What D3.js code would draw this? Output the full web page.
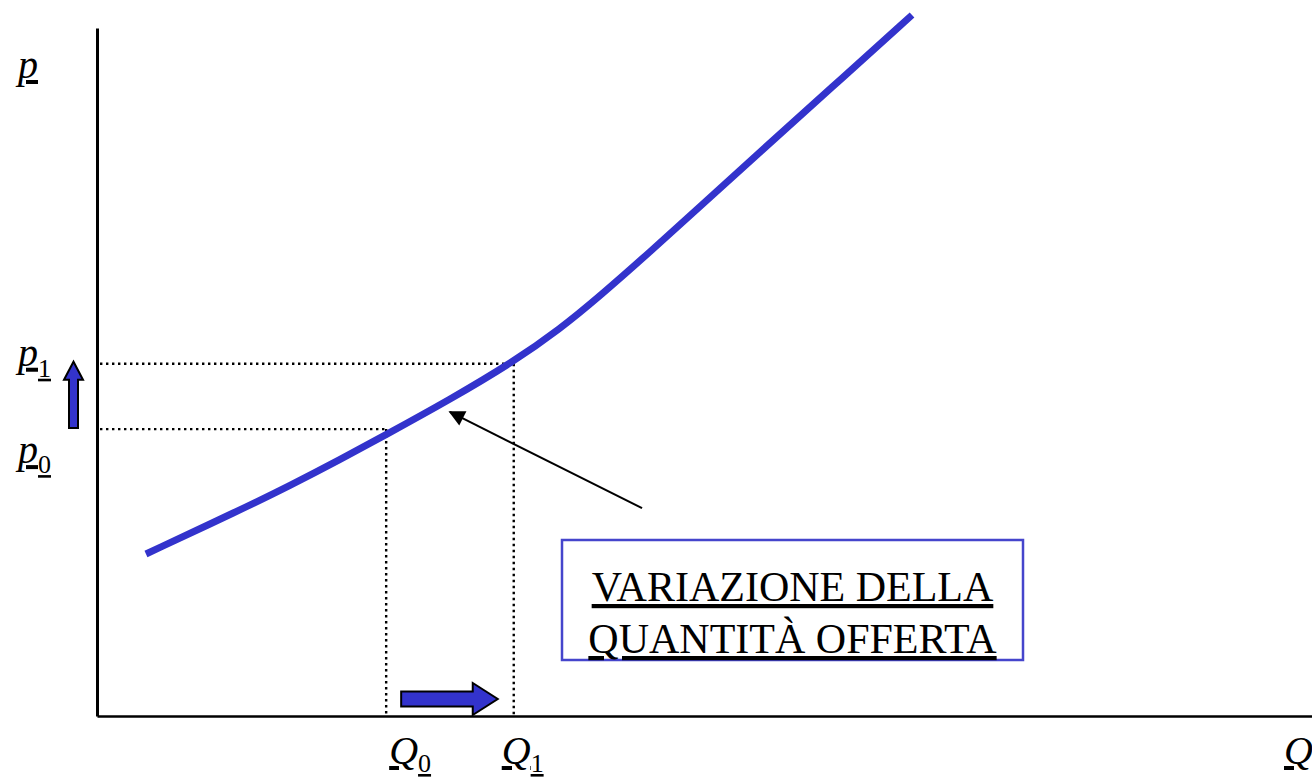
<!DOCTYPE html>
<html>
<head>
<meta charset="utf-8">
<script src="https://cdn.jsdelivr.net/npm/d3@7"></script>
<style>
  html, body { margin: 0; padding: 0; background: #fff; }
  svg { display: block; }
</style>
</head>
<body>
<svg id="chart" width="1312" height="782"></svg>
<script>
// ---- data (arbitrary units: Q 0..100, p 0..100) ----
const supplyQ = [4.03, 11.77, 15.88, 20.0, 23.70, 29.05, 34.24, 38.11, 41.40, 45.51, 49.63, 54.57, 60.33, 67.08];
const supplyP = [23.55, 29.94, 33.50, 37.28, 40.81, 46.00, 51.45, 56.25, 61.05, 67.44, 74.06, 81.98, 91.13, 101.89];
const qLevels = [23.8, 34.3];          // Q0, Q1
const pLevels = [41.7, 51.2];          // p0, p1
const qLabels = ["Q", "Q"];
const qSubs = ["0", "1"];
const pLabels = ["p", "p"];
const pSubs = ["0", "1"];
const axisLabelY = "p";
const axisLabelX = "Q";
const boxLines = ["VARIAZIONE DELLA", "QUANTITÀ OFFERTA"];
const pointerFrom = [44.86, 30.2];     // [Q, p]
const pointerTo = [29.05, 44.2];

const FONT = "'Liberation Serif', 'Times New Roman', Times, serif";
const svg = d3.select("#chart");
const x = d3.scaleLinear().domain([0, 100]).range([97, 1312]);
const y = d3.scaleLinear().domain([0, 100]).range([716, 28]);
const blue = "#3333cc";

// axes
svg.append("g").attr("transform", `translate(${x(0)},0)`)
  .call(d3.axisLeft(y).tickValues([]).tickSizeOuter(0))
  .select(".domain").attr("stroke", "#000").attr("stroke-width", 3);
svg.append("g").attr("transform", `translate(0,${y(0)})`)
  .call(d3.axisBottom(x).tickValues([]).tickSizeOuter(0))
  .select(".domain").attr("stroke", "#000").attr("stroke-width", 2.5);

// dotted guides
const guides = svg.append("g").attr("stroke", "#000").attr("stroke-width", 2.4)
  .attr("stroke-dasharray", "2.4,3.6").attr("fill", "none");
qLevels.forEach((q, i) => {
  const p = pLevels[i];
  guides.append("line").attr("x1", x(0) + 3).attr("x2", x(q)).attr("y1", y(p)).attr("y2", y(p));
  guides.append("line").attr("x1", x(q)).attr("x2", x(q)).attr("y1", y(p)).attr("y2", y(0));
});

// supply curve
const pts = supplyQ.map((q, i) => [q, supplyP[i]]);
svg.append("path").datum(pts)
  .attr("fill", "none").attr("stroke", blue).attr("stroke-width", 7)
  .attr("d", d3.line().x(d => x(d[0])).y(d => y(d[1])).curve(d3.curveBasis));

// labels helper
function label(xp, yp, main, sub, size, subSize, dy) {
  const t = svg.append("text").attr("x", xp).attr("y", yp)
    .attr("font-family", FONT).style("font-family", FONT)
    .attr("font-size", size).attr("fill", "#000");
  t.append("tspan").text(main).attr("font-style", "italic")
    .attr("text-decoration", "underline").style("text-decoration", "underline");
  if (sub) {
    t.append("tspan").text(sub).attr("dy", dy).attr("font-size", subSize)
      .attr("text-decoration", "underline").style("text-decoration", "underline");
  }
  return t;
}
label(18, 78, axisLabelY, null, 40);
label(18, y(pLevels[1]) + 2, pLabels[1], pSubs[1], 40, 26, 11);
label(18, y(pLevels[0]) + 34, pLabels[0], pSubs[0], 40, 26, 10);
label(x(qLevels[0]) + 3, 764, qLabels[0], qSubs[0], 40, 26, 8);
label(x(qLevels[1]) - 12, 764, qLabels[1], qSubs[1], 40, 26, 8);
label(1284, 764, axisLabelX, null, 40);

// block arrows
function blockArrowUp(cx, yBottom, yTip) {
  const sw = 4.5, hw = 9.5, hl = 18;
  const d = `M${cx - sw},${yBottom} L${cx - sw},${yTip + hl} L${cx - hw},${yTip + hl} L${cx},${yTip} L${cx + hw},${yTip + hl} L${cx + sw},${yTip + hl} L${cx + sw},${yBottom} Z`;
  svg.append("path").attr("d", d).attr("fill", blue).attr("stroke", "#000").attr("stroke-width", 2);
}
function blockArrowRight(cy, xStart, xTip) {
  const sw = 7.5, hw = 16, hl = 25;
  const d = `M${xStart},${cy - sw} L${xTip - hl},${cy - sw} L${xTip - hl},${cy - hw} L${xTip},${cy} L${xTip - hl},${cy + hw} L${xTip - hl},${cy + sw} L${xStart},${cy + sw} Z`;
  svg.append("path").attr("d", d).attr("fill", blue).attr("stroke", "#000").attr("stroke-width", 2);
}
blockArrowUp(73.5, y(pLevels[0]) - 1, y(pLevels[1]) - 2);
blockArrowRight(699, x(qLevels[0]) + 15, x(qLevels[1]) - 16);

// pointer arrow
const defs = svg.append("defs");
defs.append("marker").attr("id", "ah").attr("viewBox", "0 0 10 10")
  .attr("refX", 9).attr("refY", 5).attr("markerWidth", 9).attr("markerHeight", 8)
  .attr("markerUnits", "strokeWidth").attr("orient", "auto")
  .append("path").attr("d", "M0,0 L10,5 L0,10 Z").attr("fill", "#000");
svg.append("line")
  .attr("x1", x(pointerFrom[0])).attr("y1", y(pointerFrom[1]))
  .attr("x2", x(pointerTo[0])).attr("y2", y(pointerTo[1]))
  .attr("stroke", "#000").attr("stroke-width", 2).attr("marker-end", "url(#ah)");

// annotation box
svg.append("rect").attr("x", 562).attr("y", 540).attr("width", 461).attr("height", 120)
  .attr("fill", "#fff").attr("stroke", "#4545cc").attr("stroke-width", 2.5);
boxLines.forEach((s, i) => {
  svg.append("text").attr("x", 792.5).attr("y", 601 + i * 52)
    .attr("text-anchor", "middle")
    .attr("font-family", FONT).style("font-family", FONT)
    .attr("font-size", 42).attr("fill", "#000")
    .attr("text-decoration", "underline").style("text-decoration", "underline")
    .text(s);
});
</script>
</body>
</html>
